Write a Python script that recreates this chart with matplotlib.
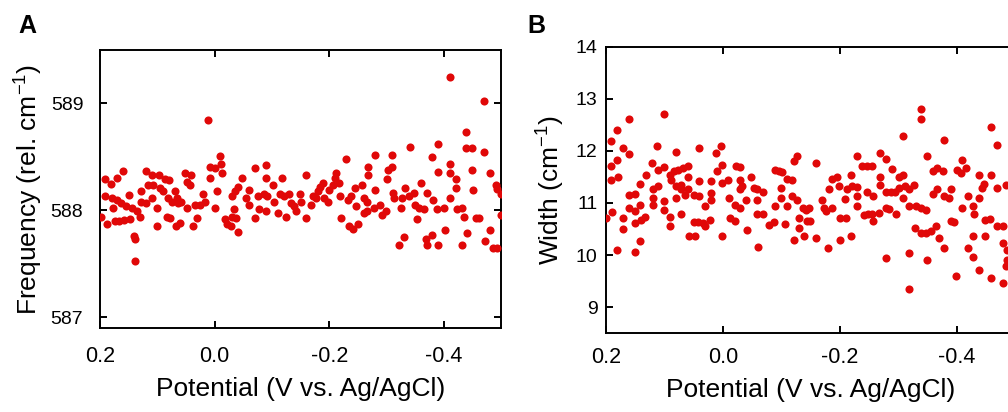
import matplotlib
matplotlib.use("Agg")
import matplotlib.pyplot as plt

#================================================================================
#   DATA
#================================================================================
freq_x = [0.199, 0.191, 0.191, 0.187, 0.180, 0.179, 0.177, 0.174, 0.170, 0.170,
          0.167, 0.160, 0.163, 0.158, 0.154, 0.150, 0.148, 0.145, 0.141, 0.139,
          0.139, 0.135, 0.131, 0.129, 0.128, 0.119, 0.119, 0.116, 0.110, 0.110,
          0.107, 0.100, 0.100, 0.097, 0.096, 0.090, 0.087, 0.084, 0.081, 0.080,
          0.078, 0.075, 0.069, 0.068, 0.066, 0.064, 0.061, 0.058, 0.051, 0.049,
          0.049, 0.043, 0.041, 0.038, 0.034, 0.031, 0.026, 0.020, 0.017, 0.011,
          0.009, 0.008, 0.000, -0.004, -0.009, -0.011, -0.012, 0.000, -0.018, -0.021,
          -0.029, -0.031, -0.030, -0.036,
          -0.034, -0.037, -0.040, -0.041, -0.048, -0.054, -0.059, -0.060, -0.071, -0.071,
          -0.075, -0.078, -0.086, -0.089, -0.089, -0.089, -0.092, -0.101, -0.104, -0.110,
          -0.113, -0.118, -0.121, -0.124, -0.130, -0.133, -0.139, -0.142, -0.148, -0.151,
          -0.159, -0.160, -0.168, -0.171, -0.177, -0.180, -0.184, -0.188, -0.191, -0.197,
          -0.200, -0.206, -0.209, -0.212, -0.216, -0.218, -0.221, -0.229, -0.232, -0.234,
          -0.241, -0.250, -0.238, -0.244, -0.247, -0.256, -0.261, -0.261, -0.267, -0.267,
          -0.266, -0.266, -0.280, -0.280, -0.277, -0.289, -0.292, -0.298, -0.300, -0.302,
          -0.309, -0.309, -0.311, -0.312, -0.321, -0.324, -0.330, -0.331, -0.327, -0.340,
          -0.338, -0.347, -0.350, -0.352, -0.356, -0.360, -0.365, -0.369, -0.370, -0.370,
          -0.379, -0.379, -0.381, -0.390, -0.390, -0.390, -0.388, -0.400, -0.401, -0.410,
          -0.410, -0.410, -0.410, -0.420, -0.420, -0.422, -0.431, -0.432, -0.435, -0.439,
          -0.439, -0.449, -0.440, -0.449, -0.451, -0.455, -0.461, -0.470, -0.470, -0.471,
          -0.480, -0.480, -0.486, -0.493, -0.490, -0.492, -0.499, -0.499]
freq_y = [587.94, 588.29, 588.13, 587.87, 588.25, 588.12, 588.02, 587.90, 588.30, 588.10,
          587.90, 588.37, 588.07, 587.91, 588.04, 588.14, 587.92, 588.02, 587.76, 587.73,
          587.53, 587.99, 587.94, 588.18, 588.08, 588.37, 588.07, 588.24, 588.33, 588.12,
          588.24, 588.02, 587.85, 588.33, 588.21, 588.18, 588.29, 587.94, 588.12, 588.28,
          587.93, 588.08, 588.18, 587.85, 588.12, 588.07, 587.88, 588.08, 588.35, 588.27,
          588.02, 588.24, 588.33, 587.85, 588.05, 587.93, 588.05, 588.15, 588.08, 588.85,
          588.41, 588.30, 588.40, 588.18, 588.51, 588.43, 588.35, 588.02, 587.92, 587.87,
          587.85, 587.94, 588.13, 588.18,
          588.01, 587.93, 588.22, 587.80, 588.30, 588.12, 588.19, 588.05, 588.40, 587.93,
          588.13, 588.01, 588.15, 588.42, 588.30, 587.99, 588.13, 588.24, 588.08, 587.98,
          588.15, 588.30, 588.13, 587.94, 588.15, 588.07, 588.04, 587.99, 588.15, 588.08,
          588.33, 587.93, 588.05, 588.13, 588.12, 588.18, 588.22, 588.26, 588.12, 588.08,
          588.19, 588.24, 588.30, 588.35, 588.26, 588.13, 587.93, 588.48, 588.10, 587.85,
          587.83, 587.87, 588.13, 588.21, 588.04, 588.24, 588.12, 587.98, 588.41, 588.33,
          588.08, 587.99, 588.52, 588.19, 588.02, 588.05, 587.96, 587.99, 588.29, 588.38,
          588.52, 588.41, 588.16, 588.12, 587.68, 588.02, 587.75, 588.21, 588.12, 588.59,
          588.13, 588.16, 588.05, 587.92, 588.02, 588.26, 588.01, 587.73, 587.68, 588.16,
          588.50, 587.77, 588.10, 588.62, 588.36, 587.68, 588.01, 588.02, 587.82, 589.25,
          588.43, 588.35, 588.12, 588.29, 588.21, 588.01, 587.68, 588.02, 587.94, 588.73,
          588.58, 588.58, 587.79, 588.38, 588.19, 587.93, 587.93, 589.02, 588.55, 587.71,
          588.35, 587.82, 587.65, 587.65, 588.24, 588.20, 588.15, 587.96]

width_x = [0.200, 0.191, 0.191, 0.191, 0.189, 0.181, 0.181, 0.179, 0.181, 0.171,
           0.171, 0.171, 0.161, 0.161, 0.161, 0.161, 0.151, 0.151, 0.151, 0.151,
           0.141, 0.141, 0.141, 0.140, 0.133, 0.131, 0.121, 0.120, 0.120, 0.120,
           0.113, 0.111, 0.111, 0.101, 0.101, 0.100, 0.100, 0.091, 0.091, 0.091,
           0.081, 0.088, 0.083, 0.077, 0.068, 0.060, 0.080, 0.071, 0.071, 0.065,
           0.080, 0.071, 0.060, 0.060, 0.058, 0.048, 0.049, 0.049, 0.040, 0.040,
           0.040, 0.031, 0.042, 0.034, 0.031, 0.020, 0.020, 0.020, 0.022, 0.011,
           0.010, 0.003, 0.001, 0.001, 0.001, -0.009, -0.010, -0.012, -0.020, -0.020,
           -0.023,
           -0.029, -0.029, -0.033, -0.030, -0.029, -0.039, -0.041, -0.049, -0.053, -0.059,
           -0.069, -0.059, -0.059, -0.069, -0.060, -0.079, -0.087, -0.090, -0.096, -0.102,
           -0.090, -0.099, -0.099, -0.109, -0.119, -0.109, -0.107, -0.119, -0.121, -0.127,
           -0.121, -0.127, -0.130, -0.130, -0.138, -0.142, -0.147, -0.139, -0.144, -0.150,
           -0.159, -0.159, -0.170, -0.173, -0.176, -0.180, -0.182, -0.187, -0.196, -0.187,
           -0.199, -0.201, -0.210, -0.200, -0.209, -0.213, -0.221, -0.229, -0.219, -0.219,
           -0.229, -0.229, -0.229, -0.239, -0.247, -0.241, -0.247,
           -0.255, -0.257, -0.248, -0.255, -0.257, -0.269, -0.269, -0.269, -0.267, -0.279,
           -0.279, -0.288, -0.295, -0.279, -0.285, -0.296, -0.279, -0.289, -0.302, -0.308,
           -0.302, -0.312, -0.319, -0.328, -0.309, -0.309, -0.319, -0.330, -0.339, -0.347,
           -0.319, -0.319, -0.329, -0.339, -0.339, -0.339, -0.347, -0.356, -0.365, -0.349,
           -0.349, -0.359, -0.367, -0.376, -0.359, -0.367, -0.379, -0.387, -0.370, -0.379,
           -0.379, -0.390, -0.390, -0.396, -0.399, -0.400, -0.407, -0.416, -0.409, -0.409,
           -0.419, -0.419, -0.428, -0.430, -0.428, -0.428, -0.439, -0.439, -0.439, -0.447,
           -0.443, -0.449, -0.457, -0.449, -0.459, -0.459, -0.459, -0.470, -0.470, -0.470,
           -0.479, -0.479, -0.479, -0.484, -0.486, -0.486, -0.484]
width_y = [10.71, 12.19, 11.71, 11.45, 10.82, 12.41, 11.83, 11.50, 10.10, 12.06,
           10.71, 10.50, 12.62, 11.94, 11.16, 10.90, 11.18, 10.84, 10.62, 10.06,
           11.37, 10.97, 10.26, 10.68, 10.74, 11.53, 11.77, 11.26, 11.10, 10.97,
           12.10, 11.64, 11.32, 12.72, 11.69, 11.03, 10.87, 11.54, 10.74, 10.56,
           11.99, 11.45, 11.61, 11.64, 11.67, 11.71, 11.32, 11.35, 11.26, 11.16,
           11.10, 10.79, 11.50, 11.26, 10.37, 10.37, 11.16, 10.63, 12.06, 11.42,
           11.13, 10.94, 10.63, 10.62, 10.55, 11.42, 11.19, 11.06, 10.68, 11.97,
           11.61, 12.09, 11.74, 11.38, 10.36, 11.45, 11.10, 10.71, 10.97, 10.65,
           11.71,
           11.69, 11.44, 11.32, 11.26, 10.90, 11.06, 10.49, 11.50, 11.29, 11.26,
           11.22, 11.06, 10.79, 10.78, 10.15, 10.58, 10.63, 11.64, 11.61, 11.59,
           10.94, 11.29, 11.10, 11.46, 11.44, 10.94, 10.60, 11.13, 11.81, 11.91,
           10.29, 11.06, 10.71, 10.52, 10.90, 10.87, 10.90, 10.37, 10.65, 10.65,
           11.77, 10.33, 11.06, 10.90, 10.84, 10.13, 11.27, 11.46, 11.50, 10.90,
           11.32, 10.71, 10.71, 10.29, 11.08, 11.27, 11.32, 11.31, 11.53, 10.36,
           11.90, 11.13, 10.94, 11.71, 11.72, 10.76, 11.22,
           11.72, 11.14, 10.78, 10.78, 10.65, 11.97, 11.50, 11.35, 10.81, 11.85,
           11.22, 11.22, 11.22, 10.90, 10.88, 10.79, 9.94, 11.65, 11.50, 11.53,
           11.29, 11.32, 11.26, 11.35, 12.28, 11.10, 10.95, 10.94, 10.90, 10.87,
           10.04, 9.35, 10.52, 12.81, 12.62, 10.42, 10.42, 10.46, 10.55, 11.91,
           9.90, 11.61, 11.67, 11.61, 11.18, 11.26, 11.13, 11.10, 10.33, 12.22,
           10.13, 11.27, 10.65, 10.63, 9.60, 11.64, 11.58, 11.67, 11.82, 10.90,
           11.14, 10.13, 10.94, 10.78, 10.36, 9.97, 11.53, 11.10, 9.72, 11.37,
           11.29, 10.68, 10.69, 10.36, 11.53, 12.46, 9.56, 12.12, 11.29, 10.56,
           10.55, 10.24, 9.46, 11.35, 10.10, 9.91, 9.78]

x_ticks = [0.2, 0.0, -0.2, -0.4]
x_tick_labels = ['0.2', '0.0', '-0.2', '-0.4']
freq_ticks = [587, 588, 589]
width_ticks = [9, 10, 11, 12, 13, 14]

#================================================================================
#   STYLE
#================================================================================
plt.rcParams['font.family'] = ['Liberation Sans', 'DejaVu Sans']
plt.rcParams['mathtext.default'] = 'regular'
plt.rcParams['axes.unicode_minus'] = False

DOT_COLOR = '#e00808'


def style_axis(ax, xpad, ypad):
    for sp in ax.spines.values():
        sp.set_linewidth(1.4)
    ax.tick_params(direction='in', length=5, width=1.4, top=True, right=True)
    ax.tick_params(axis='x', labelsize=15.5, pad=xpad)
    ax.tick_params(axis='y', labelsize=14, pad=ypad)
    ax.set_xticks(x_ticks)
    ax.set_xticklabels(x_tick_labels)
    ax.set_xlim(0.2, -0.5)
    ax.set_xlabel('Potential (V vs. Ag/AgCl)', fontsize=19, labelpad=7)


fig = plt.figure(figsize=(10.08, 4.12), dpi=100)

# Panel A
ax_a = fig.add_axes([0.0992, 0.2039, 0.3983, 0.6747])
ax_a.scatter(freq_x, freq_y, s=34, color=DOT_COLOR, linewidths=0, zorder=3)
style_axis(ax_a, 13, 12)
ax_a.set_ylim(586.9, 589.5)
ax_a.set_yticks(freq_ticks)
ax_a.set_ylabel('Frequency (rel. cm$^{-1}$)', fontsize=19, labelpad=4)

# Panel B (right edge runs past the figure, as in the cropped original)
ax_b = fig.add_axes([0.6012, 0.1917, 0.4057, 0.6943])
ax_b.scatter(width_x, width_y, s=34, color=DOT_COLOR, linewidths=0, zorder=3)
style_axis(ax_b, 10, 6)
ax_b.set_ylim(8.5, 14)
ax_b.set_yticks(width_ticks)
ax_b.set_ylabel('Width (cm$^{-1}$)', fontsize=19, labelpad=6)

fig.text(0.018, 0.92, 'A', fontsize=18, fontweight='bold', va='baseline')
fig.text(0.523, 0.92, 'B', fontsize=18, fontweight='bold', va='baseline')

fig.savefig('out.png', dpi=100, facecolor='white')
